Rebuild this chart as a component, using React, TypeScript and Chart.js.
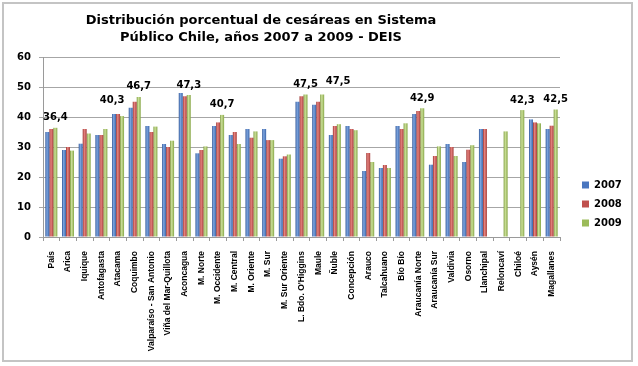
import React, { useEffect, useRef } from "react";
import { Chart, registerables } from "chart.js";

Chart.register(...registerables);

const titleLines = [
  "Distribución porcentual de cesáreas en Sistema",
  "Público Chile, años 2007 a 2009 - DEIS",
];

const categories = [
  "País", "Arica", "Iquique", "Antofagasta", "Atacama", "Coquimbo",
  "Valparaíso - San Antonio", "Viña del Mar-Quillota", "Aconcagua",
  "M. Norte", "M. Occidente", "M. Central", "M. Oriente", "M. Sur",
  "M. Sur Oriente", "L. Bdo. O'Higgins", "Maule", "Ñuble", "Concepción",
  "Arauco", "Talcahuano", "Bío Bío", "Araucanía Norte", "Araucanía Sur",
  "Valdivia", "Osorno", "Llanchipal", "Reloncaví", "Chiloé", "Aysén",
  "Magallanes",
];

const seriesNames = ["2007", "2008", "2009"];

const values2007 = [
  35, 29, 31.1, 34, 41, 43.1, 37, 31, 48, 27.9, 37, 34, 36, 36, 26.1, 45.1,
  44.1, 34, 37, 22, 23, 37, 41, 24.1, 31, 25, 36, null, null, 39.2, 36,
];
const values2008 = [
  36, 30, 36, 34, 41, 45.1, 35, 30, 46.9, 29, 38.2, 35, 33.1, 32.3, 26.9,
  46.9, 45.1, 37, 36, 28, 24, 36, 42, 27, 30, 29.1, 36, null, null, 38.2,
  37.1,
];
const values2009 = [
  36.4, 28.8, 34.5, 36, 40.3, 46.7, 36.8, 32.1, 47.3, 30.2, 40.7, 31, 35.2,
  32.3, 27.5, 47.5, 47.5, 37.6, 35.6, 25, 23, 37.9, 42.9, 30.2, 27, 30.6,
  null, 35.2, 42.3, 37.9, 42.5,
];

// categories whose 2009 value is written above the bar
const labelledCategories = [
  "País", "Atacama", "Coquimbo", "Aconcagua", "M. Occidente",
  "L. Bdo. O'Higgins", "Maule", "Araucanía Norte", "Chiloé", "Magallanes",
];

const yTicksMin = 0;
const yTicksMax = 60;
const yTicksStep = 10;

// ---- styling ----
const W = 638;
const H = 366;
const FONT = "'DejaVu Sans', sans-serif";
const solid = ["#4a76bf", "#c0504d", "#9bbb59"];
const gradStops = [
  ["#2f5597", "#7ea6e0", "#3a64a8"],
  ["#9c3532", "#e5837f", "#a8403d"],
  ["#7a9a3c", "#cde19a", "#86a646"],
];
const CAT_PCT = 0.72;
const labelShift: Record<string, [number, number]> = {
  Atacama: [-10, -6],
  Maule: [16, -3],
};

function makeGradient(ctx: any, dsIndex: number) {
  const chart = ctx.chart;
  const x = chart.scales && chart.scales.x;
  if (!x || !chart.chartArea || x.width <= 0) return solid[dsIndex];
  const n = categories.length;
  const catW = x.width / n;
  const groupW = catW * CAT_PCT;
  const barW = groupW / 3;
  const center = x.getPixelForValue(ctx.dataIndex);
  const left = center - groupW / 2 + dsIndex * barW;
  const g = chart.ctx.createLinearGradient(left, 0, left + barW, 0);
  g.addColorStop(0, gradStops[dsIndex][0]);
  g.addColorStop(0.4, gradStops[dsIndex][1]);
  g.addColorStop(1, gradStops[dsIndex][2]);
  return g;
}

const framePlugin = {
  id: "frameTitle",
  beforeDraw(chart: any) {
    const c = chart.ctx;
    c.save();
    c.fillStyle = "#ffffff";
    c.fillRect(0, 0, W, H);
    c.strokeStyle = "#c4c4c4";
    c.lineWidth = 2;
    c.strokeRect(3, 3, 629, 358);
    c.restore();
  },
  afterDraw(chart: any) {
    const c = chart.ctx;
    c.save();
    c.fillStyle = "#000";
    c.font = `bold 13px ${FONT}`;
    c.textAlign = "center";
    c.textBaseline = "alphabetic";
    c.fillText(titleLines[0], 261, 24);
    c.fillText(titleLines[1], 261, 41);
    c.restore();
  },
};

const legendPlugin = {
  id: "legendTweak",
  beforeInit(chart: any) {
    const lg = chart.legend;
    if (!lg) return;
    const orig = lg.fit;
    lg.fit = function () {
      orig.call(this);
      this.width = 78;
    };
  },
  afterLayout(chart: any) {
    const lg = chart.legend;
    if (!lg) return;
    lg.left += 13;
    lg.right += 13;
    lg.top = 171;
    lg.bottom = H;
  },
};

const valueLabelPlugin = {
  id: "valueLabels",
  afterDatasetsDraw(chart: any) {
    const meta = chart.getDatasetMeta(2);
    const c = chart.ctx;
    c.save();
    c.fillStyle = "#000";
    c.font = `bold 10px ${FONT}`;
    c.textAlign = "center";
    c.textBaseline = "middle";
    labelledCategories.forEach((name) => {
      const i = categories.indexOf(name);
      const el = meta.data[i];
      const v = values2009[i];
      if (!el || v == null) return;
      const [dx, dy] = labelShift[name] || [0, 0];
      c.fillText(v.toFixed(1).replace(".", ","), el.x + dx, el.y - 10 + dy);
    });
    c.restore();
  },
};

export default function App() {
  const ref = useRef<HTMLCanvasElement | null>(null);

  useEffect(() => {
    if (!ref.current) return;
    const allSeries = [values2007, values2008, values2009];
    const chart = new Chart(ref.current, {
      type: "bar",
      data: {
        labels: categories,
        datasets: allSeries.map((vals, k) => ({
          label: seriesNames[k],
          data: vals,
          backgroundColor: (ctx: any) => makeGradient(ctx, k),
          borderWidth: 0,
          categoryPercentage: CAT_PCT,
          barPercentage: 1,
        })),
      },
      options: {
        responsive: false,
        animation: false,
        events: [],
        layout: { padding: { top: 57, left: 0, right: 0, bottom: 0 } },
        plugins: {
          title: { display: false },
          tooltip: { enabled: false },
          legend: {
            display: true,
            position: "right",
            align: "start",
            labels: {
              boxWidth: 7,
              boxHeight: 7,
              padding: 9,
              color: "#000",
              font: { family: FONT, size: 10, weight: "bold" },
              generateLabels: () =>
                seriesNames.map((n, k) => ({
                  text: n,
                  fillStyle: solid[k],
                  strokeStyle: solid[k],
                  lineWidth: 0,
                  hidden: false,
                  datasetIndex: k,
                })),
            },
          },
        },
        scales: {
          x: {
            offset: true,
            grid: {
              offset: true,
              drawOnChartArea: false,
              drawTicks: true,
              tickLength: 4,
              color: "#9a9a9a",
            },
            border: { display: true, color: "#9a9a9a" },
            ticks: {
              autoSkip: false,
              maxRotation: 90,
              minRotation: 90,
              padding: 10,
              color: "#000",
              font: { family: "'Liberation Sans', Arial, sans-serif", size: 8.5, weight: "bold" },
            },
            afterFit: (s: any) => {
              s.height = H - 237;
            },
          },
          y: {
            min: yTicksMin,
            max: yTicksMax,
            ticks: {
              stepSize: yTicksStep,
              padding: 8,
              color: "#000",
              font: { family: FONT, size: 10, weight: "bold" },
            },
            grid: {
              color: "#a6a6a6",
              tickLength: 4,
              drawTicks: true,
            },
            border: { display: true, color: "#9a9a9a" },
            afterFit: (s: any) => {
              s.width = 43;
            },
          },
        },
      },
      plugins: [framePlugin, legendPlugin, valueLabelPlugin],
    } as any);
    return () => chart.destroy();
  }, []);

  return (
    <div style={{ position: "absolute", left: 0, top: 0, width: W, height: H, background: "#fff" }}>
      <canvas ref={ref} width={W} height={H} style={{ display: "block", width: W, height: H }} />
    </div>
  );
}
